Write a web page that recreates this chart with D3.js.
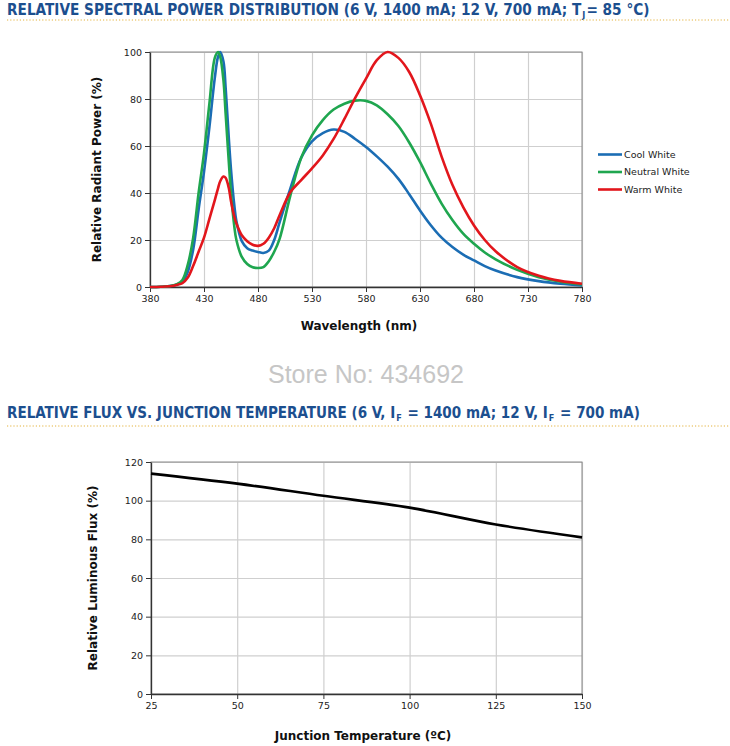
<!DOCTYPE html>
<html>
<head>
<meta charset="utf-8">
<script src="https://cdn.jsdelivr.net/npm/d3@7"></script>
<style>
  body { margin: 0; background: #fff; }
  svg { display: block; }
  text { font-family: "DejaVu Sans", Verdana, sans-serif; }
</style>
</head>
<body>
<svg id="chart" width="730" height="746"></svg>
<script>
// ---------- DATA ----------
const wavelengths  = [380,390,400,405,410,415,420,425,430,435,440,443,445,448,450,453,455,458,460,465,470,475,480,485,490,495,500,510,520,530,540,550,560,570,580,590,600,610,620,630,640,650,660,670,680,690,700,720,740,760,780];
const coolWhite    = [0,0.1,0.5,1.1,2.2,6.5,16,33,49,68,89,98,100,96,85,63,50,35,28,19.5,16.5,15.5,14.9,14.5,15.5,20,27.5,42,55,62,65.5,67,66,63,59.6,55.6,51.2,46,39.5,32.6,26.3,21,17,13.8,11.3,8.9,7,4.2,2.5,1.4,0.7];
const neutralWhite = [0,0.1,0.5,1.2,3,9.5,21,40,57,78,97.5,100,98,88,74,53,40,26,20,12.8,9.8,8.4,8.1,8.5,11,15,20.5,39,55,64.5,71,75.5,78,79.3,79.2,77.3,73.5,68.5,61.5,53.2,44,35.5,28.5,22.7,18.4,14.7,11.8,7.3,4.2,2.3,1.1];
const warmWhite    = [0,0.1,0.4,0.9,1.6,4,9,15,21,29,37,42,45,47,46.5,42,36.5,30,27,22,19.5,18,17.5,18.4,21,25,30.5,40.4,45.5,50.5,56,63,71.5,80.5,88.7,96.5,100,97.5,91.5,81.6,69.5,55.5,43.5,34,26.2,20,15.2,8.5,4.8,2.6,1.4];
const seriesNames  = ["Cool White","Neutral White","Warm White"];
const seriesColors = ["#1b6db4","#1fa64f","#e2161c"];
const spectralTicksX = [380,430,480,530,580,630,680,730,780];
const spectralTicksY = [0,20,40,60,80,100];

const junctionTemps = [25,50,75,100,125,150];
const relativeFlux  = [114,108.8,102.5,96.4,87.7,81];
const fluxTicksX = [25,50,75,100,125,150];
const fluxTicksY = [0,20,40,60,80,100,120];

// ---------- DRAW ----------
const svg = d3.select("#chart");
svg.append("rect").attr("width",730).attr("height",746).attr("fill","#fff");

const titleColor = "#1c4f8f";
const titleFont = "'DejaVu Sans Condensed', 'DejaVu Sans', sans-serif";
function title(y, parts, targetWidth) {
  const g = svg.append("g");
  const base = 14;
  let total = 0;
  const nodes = parts.map(p => g.append("text").attr("y", p.sub ? y + 3 : y)
      .style("font-family", titleFont).style("white-space","pre")
      .attr("font-weight","bold").attr("fill",titleColor)
      .attr("font-size", p.sub ? base*0.6 : base).text(p.t));
  nodes.forEach((t,i) => { total += t.node().getComputedTextLength() + (i ? 1 : 0); });
  const k = Math.min(1.15, targetWidth / total);
  let xx = 7;
  nodes.forEach((t,i) => {
    const p = parts[i];
    t.attr("font-size", (p.sub ? base*0.6 : base) * k).attr("x", xx);
    xx += t.node().getComputedTextLength() + 1;
  });
}
title(15, [{t:"RELATIVE SPECTRAL POWER DISTRIBUTION (6 V, 1400 mA; 12 V, 700 mA; T"},{t:"J",sub:true},{t:"= 85 °C)"}], 643);
title(418, [{t:"RELATIVE FLUX VS. JUNCTION TEMPERATURE (6 V, I"},{t:"F",sub:true},{t:" = 1400 mA; 12 V, I"},{t:"F",sub:true},{t:" = 700 mA)"}], 634);

[20, 426].forEach(y => svg.append("line").attr("x1",7).attr("x2",730).attr("y1",y).attr("y2",y)
  .attr("stroke","#e3b23c").attr("stroke-width",1).attr("stroke-dasharray","1.2,2"));

svg.append("text").attr("x",366).attr("y",383).attr("text-anchor","middle")
  .style("font-family","'Liberation Sans', Arial, sans-serif").attr("font-size",25)
  .attr("fill","#c6c6c6").text("Store No: 434692");

function panel(cfg) {
  const {x0,x1,y0,y1,xDomain,yDomain,xTicks,yTicks,xLabel,yLabel,xLabelX,xLabelY,yLabelX} = cfg;
  const x = d3.scaleLinear().domain(xDomain).range([x0,x1]);
  const y = d3.scaleLinear().domain(yDomain).range([y1,y0]);
  const g = svg.append("g");
  g.append("g").attr("transform",`translate(0,${y1})`)
    .call(d3.axisBottom(x).tickValues(xTicks).tickSize(-(y1-y0)).tickFormat(""))
    .call(a => a.select(".domain").remove())
    .selectAll("line").attr("stroke","#cfcfcf").attr("stroke-width",1.2);
  g.append("g").attr("transform",`translate(${x0},0)`)
    .call(d3.axisLeft(y).tickValues(yTicks).tickSize(-(x1-x0)).tickFormat(""))
    .call(a => a.select(".domain").remove())
    .selectAll("line").attr("stroke","#cfcfcf").attr("stroke-width",1.2);
  g.append("rect").attr("x",x0).attr("y",y0).attr("width",x1-x0).attr("height",y1-y0)
    .attr("fill","none").attr("stroke","#8a8a8a").attr("stroke-width",1);
  const ax = g.append("g").attr("transform",`translate(0,${y1})`)
    .call(d3.axisBottom(x).tickValues(xTicks).tickSize(5).tickPadding(3).tickSizeOuter(0));
  const ay = g.append("g").attr("transform",`translate(${x0},0)`)
    .call(d3.axisLeft(y).tickValues(yTicks).tickSize(5).tickPadding(3).tickSizeOuter(0));
  [ax,ay].forEach(a => {
    a.select(".domain").attr("stroke","#333").attr("stroke-width",1.3);
    a.selectAll(".tick line").attr("stroke","#333");
    a.selectAll(".tick text").attr("font-size",9.5).attr("fill","#222")
      .style("font-family","'DejaVu Sans', Verdana, sans-serif");
  });
  svg.append("text").attr("x",xLabelX).attr("y",xLabelY).attr("text-anchor","middle")
    .attr("font-size",12).attr("font-weight","bold").attr("fill","#111").text(xLabel);
  svg.append("text").attr("transform",`translate(${yLabelX},${(y0+y1)/2}) rotate(-90)`)
    .attr("text-anchor","middle").attr("font-size",12).attr("font-weight","bold").attr("fill","#111").text(yLabel);
  return {x,y,g};
}

// Spectral chart
const p1 = panel({x0:150,x1:582,y0:52,y1:287,xDomain:[380,780],yDomain:[0,100],
  xTicks:spectralTicksX,yTicks:spectralTicksY,xLabel:"Wavelength (nm)",yLabel:"Relative Radiant Power (%)",
  xLabelX:359,xLabelY:330,yLabelX:101});
const spectra = [coolWhite, neutralWhite, warmWhite];
const line1 = d3.line().x((d,i)=>p1.x(wavelengths[i])).y(d=>p1.y(d)).curve(d3.curveCatmullRom.alpha(0.5));
spectra.forEach((s,k) => {
  p1.g.append("path").datum(s).attr("d",line1).attr("fill","none")
    .attr("stroke",seriesColors[k]).attr("stroke-width",2.6).attr("stroke-linejoin","round");
});
const leg = svg.append("g");
seriesNames.forEach((n,k) => {
  const yy = 154.5 + k*17.5;
  leg.append("line").attr("x1",598).attr("x2",622).attr("y1",yy).attr("y2",yy)
    .attr("stroke",seriesColors[k]).attr("stroke-width",2.6);
  leg.append("text").attr("x",624).attr("y",yy+3.3).attr("font-size",9.5).attr("fill","#222").text(n);
});

// Flux chart
const p2 = panel({x0:151,x1:582,y0:462,y1:694,xDomain:[25,150],yDomain:[0,120],
  xTicks:fluxTicksX,yTicks:fluxTicksY,xLabel:"Junction Temperature (ºC)",yLabel:"Relative Luminous Flux (%)",
  xLabelX:363,xLabelY:740,yLabelX:97});
const line2 = d3.line().x((d,i)=>p2.x(junctionTemps[i])).y(d=>p2.y(d)).curve(d3.curveMonotoneX);
p2.g.append("path").datum(relativeFlux).attr("d",line2).attr("fill","none")
  .attr("stroke","#000").attr("stroke-width",2.6);
</script>
</body>
</html>
